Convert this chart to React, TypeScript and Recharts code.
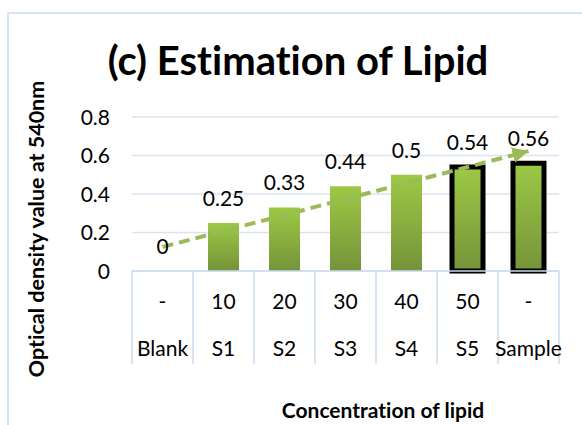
import {
  ComposedChart,
  Bar,
  Line,
  XAxis,
  YAxis,
  CartesianGrid,
  Cell,
  LabelList,
} from "recharts";

const CATEGORIES = ["Blank", "S1", "S2", "S3", "S4", "S5", "Sample"];
const CONCENTRATIONS = ["-", "10", "20", "30", "40", "50", "-"];
const OD_VALUES = [0, 0.25, 0.33, 0.44, 0.5, 0.54, 0.56];
// trend line end points
const TREND = [0.125, null, null, null, null, null, 0.623];
const OUTLINED = [false, false, false, false, false, true, true];
const Y_TICKS = [0, 0.2, 0.4, 0.6, 0.8];

const W = 582;
const H = 425;
const PLOT_LEFT = 132;
const PLOT_RIGHT = 559;
const PLOT_TOP = 117;
const PLOT_BOTTOM = 271;
const TABLE_BOTTOM = 364;
const HALF_BAND = (PLOT_RIGHT - PLOT_LEFT) / CATEGORIES.length / 2;

const FONT = "Lato, 'Open Sans', sans-serif";
const GRID = "#d9e3f1";
const TABLE = "#cddbee";
const FRAME = "#d6e3f4";
const TREND_GREEN = "#9bbb59";

const data = CATEGORIES.map((c, i) => ({
  name: c,
  conc: CONCENTRATIONS[i],
  od: OD_VALUES[i],
  trend: TREND[i],
}));

function ConcTick(props: any) {
  const { x, payload, index } = props;
  const last = index === CATEGORIES.length - 1;
  return (
    <g>
      <line x1={x - HALF_BAND} x2={x - HALF_BAND} y1={PLOT_BOTTOM} y2={TABLE_BOTTOM} stroke={TABLE} strokeWidth={1.5} />
      {last && (
        <line x1={x + HALF_BAND} x2={x + HALF_BAND} y1={PLOT_BOTTOM} y2={TABLE_BOTTOM} stroke={TABLE} strokeWidth={1.5} />
      )}
      <text x={x} y={309} textAnchor="middle" fontSize={21} fill="#000">
        {payload.value}
      </text>
    </g>
  );
}

function NameTick(props: any) {
  const { x, payload } = props;
  return (
    <text x={x} y={356} textAnchor="middle" fontSize={21} fill="#000">
      {payload.value}
    </text>
  );
}

function ValueTick(props: any) {
  const { y, payload } = props;
  return (
    <text x={110} y={y} dy="0.36em" textAnchor="end" fontSize={21} fill="#000">
      {payload.value}
    </text>
  );
}

export default function App() {
  return (
    <div style={{ position: "absolute", left: 0, top: 0, width: W, height: H, background: "#fff" }}>
      <ComposedChart
        width={W}
        height={H}
        data={data}
        margin={{ top: PLOT_TOP, right: W - PLOT_RIGHT, bottom: 60, left: 60 }}
        style={{ fontFamily: FONT, fontVariantLigatures: "none" }}
      >
        <defs>
          <linearGradient id="barFill" x1="0" y1="0" x2="0" y2="1">
            <stop offset="0%" stopColor="#9cc945" />
            <stop offset="100%" stopColor="#76933a" />
          </linearGradient>
          <marker
            id="trendArrow"
            markerUnits="userSpaceOnUse"
            markerWidth={18}
            markerHeight={18}
            refX={16}
            refY={8}
            orient="auto"
          >
            <path d="M0,0 L16,8 L0,16 Z" fill={TREND_GREEN} />
          </marker>
        </defs>
        <line x1={8} y1={13} x2={8} y2={H} stroke={FRAME} strokeWidth={2} />
        <line x1={7} y1={13} x2={W} y2={13} stroke={FRAME} strokeWidth={2} />
        <text x={298} y={75} textAnchor="middle" fontSize={40} fontWeight={700} fill="#000">
          (c) Estimation of Lipid
        </text>
        <text
          x={0}
          y={0}
          transform="translate(44,229) rotate(-90)"
          textAnchor="middle"
          fontSize={21.5}
          fontWeight={700}
          fill="#000"
        >
          Optical density value at 540nm
        </text>
        <text x={383} y={418} textAnchor="middle" fontSize={21} fontWeight={700} fill="#000">
          Concentration of lipid
        </text>
        <CartesianGrid vertical={false} stroke={GRID} strokeWidth={1.5} />
        <XAxis
          xAxisId={0}
          dataKey="conc"
          height={47}
          tickLine={false}
          axisLine={{ stroke: TABLE, strokeWidth: 1.5 }}
          tick={<ConcTick />}
          interval={0}
        />
        <XAxis
          xAxisId={1}
          dataKey="name"
          height={47}
          tickLine={false}
          axisLine={false}
          tick={<NameTick />}
          interval={0}
        />
        <YAxis
          width={72}
          domain={[0, 0.8]}
          ticks={Y_TICKS}
          tickLine={false}
          axisLine={false}
          tick={<ValueTick />}
        />
        <Bar dataKey="od" xAxisId={0} barSize={31} fill="url(#barFill)" isAnimationActive={false}>
          {data.map((d, i) => (
            <Cell
              key={d.name}
              fill="url(#barFill)"
              stroke={OUTLINED[i] ? "#000" : "none"}
              strokeWidth={OUTLINED[i] ? 5 : 0}
            />
          ))}
        </Bar>
        <Line
          dataKey="od"
          xAxisId={0}
          stroke="none"
          dot={false}
          activeDot={false}
          legendType="none"
          isAnimationActive={false}
        >
          <LabelList dataKey="od" position="top" offset={17} fontSize={21} fill="#000" />
        </Line>
        <Line
          dataKey="trend"
          xAxisId={0}
          connectNulls
          stroke={TREND_GREEN}
          strokeWidth={4}
          strokeDasharray="11 6"
          dot={false}
          activeDot={false}
          markerEnd="url(#trendArrow)"
          isAnimationActive={false}
        />
      </ComposedChart>
    </div>
  );
}
